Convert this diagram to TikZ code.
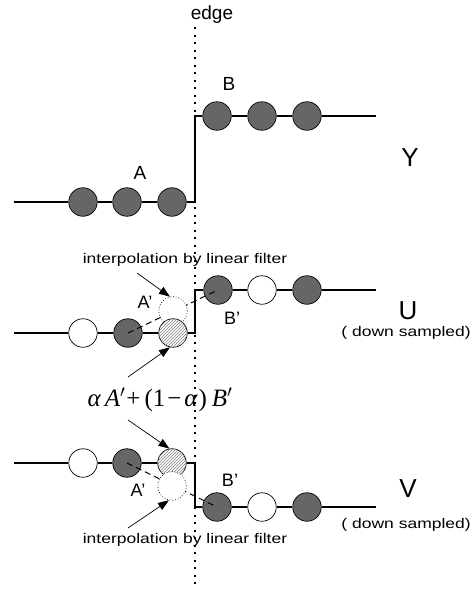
\documentclass[tikz,border=0pt]{standalone}
\usepackage{fontspec}
\setmainfont{Liberation Sans}
\newfontfamily\widefont[FakeStretch=1.25]{Liberation Sans}
\newfontfamily\seriffont{Liberation Serif}
\usetikzlibrary{arrows.meta,patterns}
\begin{document}
\begin{tikzpicture}[x=1pt,y=-1pt,
  smp/.style={circle,draw,line width=0.7pt,minimum size=28.5pt,inner sep=0pt},
  dk/.style={smp,fill=black!60},
  wh/.style={smp,fill=white},
  ht/.style={smp,fill=white,postaction={pattern=north east lines,pattern color=black!50}},
  gh/.style={smp,fill=white,dotted},
  ln/.style={line width=1.2pt},
  dsh/.style={line width=1pt,dash pattern=on 6pt off 4pt},
  edgeline/.style={line width=1.6pt,dash pattern=on 2pt off 5.5pt},
  arr/.style={line width=0.7pt,-{Triangle[length=11pt,width=8pt]}},
  small/.style={font=\widefont\fontsize{14}{16}\selectfont,inner sep=0pt},
  big/.style={font=\fontsize{26}{28}\selectfont,inner sep=0pt},
  mid/.style={font=\fontsize{19}{20}\selectfont},
  prim/.style={font=\fontsize{18}{20}\selectfont},
  formula/.style={font=\seriffont\fontsize{25}{28}\selectfont}]
\useasboundingbox (0,0) rectangle (472,592);

% edge
\coordinate (et) at (195,27);
\coordinate (eb) at (195,586);
\draw[edgeline] (et) -- (eb);
\node[font=\fontsize{19}{22}\selectfont] (edgelbl) at (212,15) {edge};

% ---------- Y row ----------
\node[dk] (ya1) at (83,202) {};
\node[dk] (ya2) at (127,202) {};
\node[dk] (ya3) at (172,202) {};
\node[dk] (yb1) at (217,116) {};
\node[dk] (yb2) at (262,116) {};
\node[dk] (yb3) at (307,116) {};
\coordinate (yl) at (14,202);
\coordinate (ys1) at (195,202);
\coordinate (ys2) at (195,116);
\coordinate (yr) at (376,116);
\draw[ln] (yl) -- (ya1) (ya1) -- (ya2) (ya2) -- (ya3) (ya3) -- (ys1) -- (ys2) -- (yb1) (yb1) -- (yb2) (yb2) -- (yb3) (yb3) -- (yr);
\node[mid] (lA) at (140,173) {A};
\node[mid] (lB) at (229,84) {B};
\node[big] (lY) at (410,158) {Y};

% ---------- U row ----------
\node[wh] (ua1) at (83,333) {};
\node[dk] (ua2) at (128,333) {};
\node[dk] (ub1) at (218,290) {};
\node[wh] (ub2) at (262,290) {};
\node[dk] (ub3) at (307,290) {};
\coordinate (ul) at (14,333);
\coordinate (us1) at (195,333);
\coordinate (us2) at (195,290);
\coordinate (ur) at (376,290);
\draw[dsh] (ua2.center) -- (ub1.center);
\node[gh] (ughost) at (173,311) {};
\node[ht] (uhatch) at (173,333) {};
\draw[ln] (ul) -- (ua1) (ua1) -- (ua2) (ua2) -- (uhatch) (uhatch) -- (us1) -- (us2) -- (ub1) (ub1) -- (ub2) (ub2) -- (ub3) (ub3) -- (ur);
\node[small] (uinterp) at (185,260) {interpolation by linear filter};
\coordinate (ut1) at (137,273);
\draw[arr] (ut1) -- (ughost.102);
\coordinate (ut2) at (128,377);
\draw[arr] (ut2) -- (uhatch.258);
\node[prim] (uA) at (145,302) {A'};
\node[prim] (uB) at (232,318) {B'};
\node[big] (lU) at (408,311) {U};
\node[small,anchor=east] (uds) at (471,333) {( down sampled)};
\node[formula] (form) at (160,400) {{\itshape α\,A}$^{\prime}$\kern1pt+\kern4pt(1\kern2pt−\kern3pt{\itshape α}\kern1pt)\kern5pt{\itshape B}$^{\prime}$};

% ---------- V row ----------
\node[wh] (va1) at (83,463) {};
\node[dk] (va2) at (127,463) {};
\node[dk] (vb1) at (217,507) {};
\node[wh] (vb2) at (262,507) {};
\node[dk] (vb3) at (307,507) {};
\coordinate (vl) at (14,463);
\coordinate (vs1) at (195,463);
\coordinate (vs2) at (195,507);
\coordinate (vr) at (376,507);
\draw[dsh] (va2.center) -- (vb1.center);
\node[ht] (vhatch) at (172,463) {};
\node[gh] (vghost) at (172,486) {};
\draw[ln] (vl) -- (va1) (va1) -- (va2) (va2) -- (vhatch) (vhatch) -- (vs1) -- (vs2) -- (vb1) (vb1) -- (vb2) (vb2) -- (vb3) (vb3) -- (vr);
\coordinate (vt1) at (128,420);
\draw[arr] (vt1) -- (vhatch.100);
\coordinate (vt2) at (128,528);
\draw[arr] (vt2) -- (vghost.258);
\node[prim] (vA) at (138,490) {A'};
\node[prim] (vB) at (230,480) {B'};
\node[big] (lV) at (408,489) {V};
\node[small,anchor=east] (vds) at (471,525) {( down sampled)};
\node[small] (vinterp) at (185,540) {interpolation by linear filter};
\end{tikzpicture}
\end{document}
